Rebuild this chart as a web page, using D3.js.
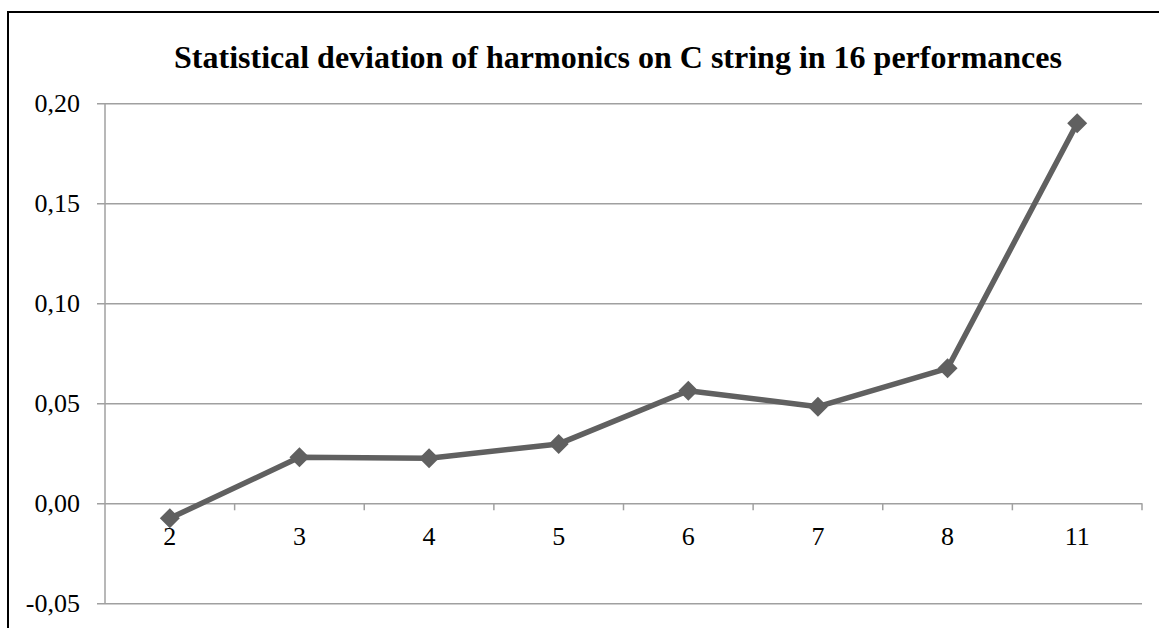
<!DOCTYPE html>
<html>
<head>
<meta charset="utf-8">
<script src="https://cdn.jsdelivr.net/npm/d3@7"></script>
<style>
  html, body { margin: 0; padding: 0; background: #fff; }
  svg { display: block; font-family: "Liberation Serif", "Times New Roman", serif; }
</style>
</head>
<body>
<svg></svg>
<script>
"use strict"

// data
let categories = ["2", "3", "4", "5", "6", "7", "8", "11"]
let deviation = [-0.0075, 0.023, 0.0225, 0.0297, 0.0563, 0.0483, 0.0675, 0.19]
let yTicks = [-0.05, 0, 0.05, 0.10, 0.15, 0.20]
let title = "Statistical deviation of harmonics on C string in 16 performances"

let width = 1159
let height = 628
let svg = d3.select("svg")
  .attr("width", width)
  .attr("height", height)

let plot = {left: 105, right: 1142, top: 103.3, bottom: 603.3}
let gridColor = "#a0a0a0"
let lineColor = "#606060"
let labelSize = 26

/* outer frame, runs off the right and bottom edge */
svg.append("rect")
  .attr("x", 8).attr("y", 12)
  .attr("width", 1200).attr("height", 700)
  .attr("fill", "none")
  .attr("stroke", "#000")
  .attr("stroke-width", 2)

svg.append("text")
  .attr("x", 618).attr("y", 68)
  .attr("text-anchor", "middle")
  .attr("font-size", 32)
  .attr("font-weight", "bold")
  .text(title)

let x = d3.scaleBand()
  .domain(categories)
  .range([plot.left, plot.right])

let y = d3.scaleLinear()
  .domain([-0.05, 0.20])
  .range([plot.bottom, plot.top])

let fmt = d => d3.format(".2f")(d).replace(".", ",").replace("−", "-")

/* y axis: gridlines + labels */
let yAxis = svg.append("g")
  .attr("transform", "translate(" + (plot.left - 8) + ",0)")
  .call(d3.axisLeft(y)
    .tickValues(yTicks)
    .tickSize(-(plot.right - plot.left + 8))
    .tickPadding(17)
    .tickFormat(fmt))
yAxis.select(".domain").remove()
yAxis.selectAll(".tick line")
  .attr("stroke", gridColor)
  .attr("stroke-width", 1.5)
yAxis.selectAll(".tick text")
  .attr("font-size", labelSize)
  .attr("font-family", "Liberation Serif, Times New Roman, serif")
  .attr("fill", "#000")

svg.append("line")
  .attr("x1", plot.left).attr("x2", plot.left)
  .attr("y1", plot.top).attr("y2", plot.bottom)
  .attr("stroke", gridColor)
  .attr("stroke-width", 1.5)

/* x axis sits at zero */
let xAxis = svg.append("g")
  .attr("transform", "translate(0," + y(0) + ")")
  .call(d3.axisBottom(x).tickSize(0).tickPadding(23))
xAxis.select(".domain").remove()
xAxis.selectAll(".tick text")
  .attr("font-size", labelSize)
  .attr("font-family", "Liberation Serif, Times New Roman, serif")
  .attr("fill", "#000")

// tick marks between categories
let edges = categories.map(c => x(c)).slice(1).concat([x.range()[1]])
xAxis.selectAll(".sep")
  .data(edges)
  .enter()
  .append("line")
  .attr("x1", d => d).attr("x2", d => d)
  .attr("y1", 0).attr("y2", 7)
  .attr("stroke", gridColor)
  .attr("stroke-width", 1.5)

/* series */
let points = categories.map((c, i) => ({cat: c, value: deviation[i]}))

let line = d3.line()
  .x(d => x(d.cat) + x.bandwidth() / 2)
  .y(d => y(d.value))

svg.append("path")
  .datum(points)
  .attr("d", line)
  .attr("fill", "none")
  .attr("stroke", lineColor)
  .attr("stroke-width", 5.5)
  .attr("stroke-linejoin", "round")

let r = 10
svg.selectAll(".marker")
  .data(points)
  .enter()
  .append("path")
  .attr("class", "marker")
  .attr("transform", d => "translate(" + (x(d.cat) + x.bandwidth() / 2) + "," + y(d.value) + ")")
  .attr("d", "M0," + (-r) + "L" + r + ",0L0," + r + "L" + (-r) + ",0Z")
  .attr("fill", lineColor)
</script>
</body>
</html>
